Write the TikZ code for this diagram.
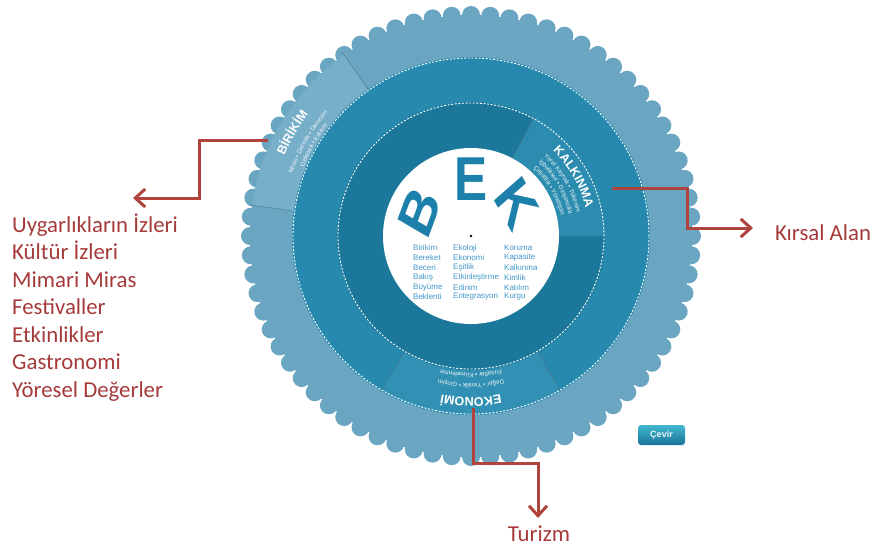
\documentclass[tikz,border=0pt]{standalone}
\usepackage{fontspec}
\setmainfont{Liberation Sans}
\newfontfamily\calibri{Carlito}
\usetikzlibrary{arrows.meta,decorations.text}

\definecolor{outerblue}{HTML}{6AA6C2}
\definecolor{birikimblue}{HTML}{77AEC8}
\definecolor{midblue}{HTML}{2789AD}
\definecolor{ekonomiblue}{HTML}{3190B3}
\definecolor{innerblue}{HTML}{1B789A}
\definecolor{kalkinmablue}{HTML}{2B8CAF}
\definecolor{bekblue}{HTML}{1C80AA}
\definecolor{wordblue}{HTML}{4297C9}
\definecolor{arrowred}{HTML}{B0443D}
\definecolor{textred}{HTML}{A63A3A}

\tikzset{
  dashring/.style={white,line width=0.9pt,dash pattern=on 2pt off 1.6pt},
  sectorline/.style={black!30!outerblue,line width=0.4pt},
  bekletter/.style={text=bekblue,font=\fontsize{62}{62}\selectfont\bfseries,inner sep=0pt,xscale=0.8},
  word/.style={text=wordblue,font=\fontsize{8}{8}\selectfont,anchor=west,inner sep=0pt},
  redtext/.style={text=textred,font=\calibri\fontsize{22.8}{27}\selectfont,inner sep=0pt},
  redarrow/.style={arrowred,line width=3pt,-{Straight Barb[length=10pt,width=18pt]}},
  ringtitle/.style={decorate,decoration={text along path,text align=center,
    text={|\fontsize{12.5}{12.5}\selectfont\bfseries\color{white}|#1}}},
  ringsub/.style={decorate,decoration={text along path,text align=center,
    text={|\fontsize{6.2}{6.2}\selectfont\color{white!88!outerblue}|#1}}},
  cevirbtn/.style={rounded corners=3pt,top color=cyan!30!bekblue!80!white,bottom color=bekblue!90!black,
    text=white!90!cyan,font=\fontsize{9}{9}\selectfont\bfseries,minimum width=47pt,minimum height=20pt,inner sep=0pt}
}

\begin{document}
\begin{tikzpicture}[x=1pt,y=1pt]
	\useasboundingbox (-471,-311) rectangle (403,236);
	% outer ring with scallops
	\fill[outerblue] (0,0) circle (221pt);
	\foreach \a in {0,5,...,355}
		\fill[outerblue] (\a:221) circle (9pt);
	\fill[birikimblue] (125:179) arc[start angle=125,end angle=172,radius=179pt] -- (172:221) arc[start angle=172,end angle=125,radius=221pt] -- cycle;
	\draw[sectorline] (125:179) -- (125:224) (172:179) -- (172:224);
	% middle ring
	\fill[midblue] (0,0) circle (179pt);
	\fill[ekonomiblue] (240:134) arc[start angle=240,end angle=300,radius=134pt] -- (300:179) arc[start angle=300,end angle=240,radius=179pt] -- cycle;
	\draw[sectorline] (240:134) -- (240:179) (300:134) -- (300:179);
	\draw[dashring] (0,0) circle (178pt);
	% inner ring
	\fill[innerblue] (0,0) circle (134pt);
	\fill[kalkinmablue] (0:88) arc[start angle=0,end angle=62,radius=88pt] -- (62:134) arc[start angle=62,end angle=0,radius=134pt] -- cycle;
	\draw[sectorline] (0:88) -- (0:134) (62:88) -- (62:134);
	\draw[dashring] (0,0) circle (133pt);
	\fill[white] (0,0) circle (88pt);

	% ring labels
	\path[ringtitle=BİRİKİM] (180:203) arc[start angle=180,end angle=120,radius=203pt];
	\path[ringsub=Miras • Derinlik • Deneyim] (180:189) arc[start angle=180,end angle=120,radius=189pt];
	\path[ringsub=Gelenek • Kalıtım] (180:181) arc[start angle=180,end angle=120,radius=181pt];
	\path[ringtitle=KALKINMA] (65:118) arc[start angle=65,end angle=-5,radius=118pt];
	\path[ringsub=Yerel Kaynak • Tükenim] (65:108) arc[start angle=65,end angle=-5,radius=108pt];
	\path[ringsub=İşbirlikleri • Girişimcilik] (65:100) arc[start angle=65,end angle=-5,radius=100pt];
	\path[ringsub=Çeşitlilik • Yönetişim] (65:92) arc[start angle=65,end angle=-5,radius=92pt];
	\path[ringtitle=EKONOMİ] (305:161.5) arc[start angle=305,end angle=235,radius=161.5pt];
	\path[ringsub=Değer • Yenilik • Girişim] (305:147.5) arc[start angle=305,end angle=235,radius=147.5pt];
	\path[ringsub=Fırsatlar • Kümelenme] (305:137) arc[start angle=305,end angle=235,radius=137pt];

	% centre
	\node[bekletter,rotate=65] (B) at (155:57) {B};
	\node[bekletter] (E) at (90:57) {E};
	\node[bekletter,rotate=-55] (K) at (35:56) {K};
	\fill (0,0) circle (1.4pt);
	\foreach \w [count=\i] in {Birikim,Bereket,Beceri,Bakış,Büyüme,Beklenti}
		\node[word] (colb\i) at (-58,{-12-9.8*(\i-1)}) {\w};
	\foreach \w [count=\i] in {Ekoloji,Ekonomi,Eşitlik,Etkinleştirme,Edinim,Entegrasyon}
		\node[word] (cole\i) at (-18,{-12-9.8*(\i-1)}) {\w};
	\foreach \w [count=\i] in {Koruma,Kapasite,Kalkınma,Kimlik,Katılım,Kurgu}
		\node[word] (colk\i) at (33,{-12-9.8*(\i-1)}) {\w};

	\node[cevirbtn] (cevir) at (190.5,-199) {Çevir};

	% arrows and labels
	\coordinate (birikimstart) at (-203,96);
	\coordinate (birikimtip) at (-338,38);
	\coordinate (kalkinmastart) at (141,48);
	\coordinate (kalkinmatip) at (282,8);
	\coordinate (ekonomistart) at (2,-172);
	\coordinate (ekonomitip) at (67,-282);
	\draw[redarrow] (birikimstart) -- ++(-68,0) |- (birikimtip);
	\draw[redarrow] (kalkinmastart) -- ++(75,0) |- (kalkinmatip);
	\draw[redarrow] (ekonomistart) -- ++(0,-55) -| (ekonomitip);

	\foreach \t [count=\i] in {Uygarlıkların İzleri,Kültür İzleri,Mimari Miras,Festivaller,Etkinlikler,Gastronomi,Yöresel Değerler}
		\node[redtext,anchor=base west] (item\i) at (-459,{4-27.5*(\i-1)}) {\t};
	\node[redtext,anchor=base west] (kirsal) at (304,-4) {Kırsal Alan};
	\node[redtext,anchor=base] (turizm) at (68,-305) {Turizm};
\end{tikzpicture}
\end{document}
